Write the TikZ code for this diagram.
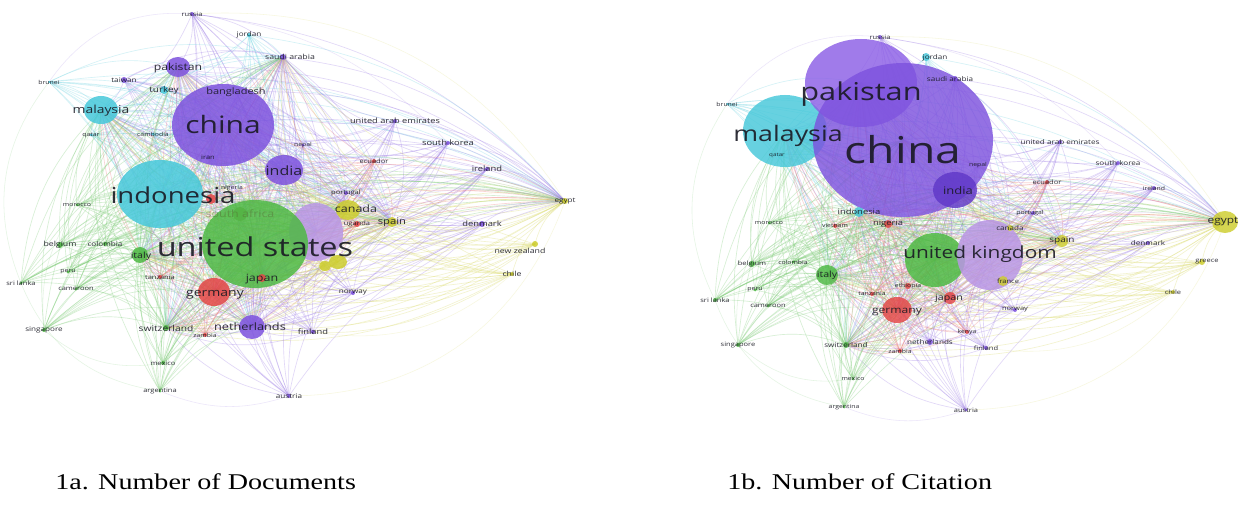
\documentclass[tikz,border=0pt]{standalone}
\usepackage{fontspec}
\setmainfont{Liberation Serif}
\newfontfamily\lab{Open Sans}
\definecolor{cpur}{RGB}{125,82,222}
\definecolor{cpurL}{RGB}{140,95,230}
\definecolor{cpurD}{RGB}{95,55,200}
\definecolor{clpur}{RGB}{185,150,228}
\definecolor{ccya}{RGB}{70,200,218}
\definecolor{cgrn}{RGB}{78,185,68}
\definecolor{cgrnD}{RGB}{120,150,70}
\definecolor{cred}{RGB}{228,70,70}
\definecolor{cyel}{RGB}{205,205,45}
\definecolor{txt}{RGB}{25,25,35}
\tikzset{
  lnk/.style={line width=0.65pt, opacity=0.3},
  lnkfaint/.style={line width=0.55pt, opacity=0.15},
  lbl/.style={inner sep=0pt, xscale=1.25, transform shape, text=txt, text opacity=0.9},
  captxt/.style={inner sep=0pt, xscale=1.25, transform shape, font=\fontsize{22.5}{24}\selectfont, anchor=base west}
}
\def\extraA{uk/316/232/27/29/clpur,yelA/338/262/9/7/cyel,yelB/325/266/6/5/cyel,southafrica/240/214/7/7/cgrnD}
\def\nodesA{russia/192/14/2/2/cpur/russia/6/192/14,
jordan/249/35/2/2/ccya/jordan/6.5/249/35,
saudiarabia/283/57/3/3/cpur/saudi arabia/7/290/57,
pakistan/178/67/12/10/cpur/pakistan/9.8/178/68,
taiwan/124/80/3/3/cpur/taiwan/6.5/124/80,
brunei/49/82/1/1/ccya/brunei/5.5/49/82,
turkey/164/90/4/4/ccya/turkey/8/164/90,
bangladesh/236/92/2/2/cpur/bangladesh/8.8/236/92,
malaysia/101/110/17/14/ccya/malaysia/11.1/101/111,
qatar/91/135/1.5/1.5/ccya/qatar/5.5/91/135,
cambodia/153/134/1.5/1.5/ccya/cambodia/5.5/153/134,
china/223/125/51/41/cpur/china/24/223/125,
iran/208/157/2/2/cpur/iran/6/208/157,
nepal/303/145/1.5/1.5/cpur/nepal/5.5/303/145,
uae/395/121/2/2/cpur/united arab emirates/7.4/395/121,
southkorea/448/143/2/2/cpur/south korea/7.5/448/143,
ireland/487/169/2/2/cpur/ireland/7.5/487/169,
ecuador/374/161/2/2/cred/ecuador/6/374/161,
india/284/170/19/15/cpur/india/12.8/284/171,
indonesia/160/194/43/34/ccya/indonesia/22/173/195,
nigeria/211/199/5/5/cred/nigeria/5.5/232/188,
unitedstates/255/244/53/44/cgrn/united states/26/255/247,
canada/348/210/12/10/cyel/canada/10/356/209,
portugal/346/193/2/2/cpur/portugal/6/346/193,
uganda/357/224/3/3/cred/uganda/6/357/224,
spain/392/222/5/5/cyel/spain/9/392/222,
denmark/482/224/3/3/cpur/denmark/7.5/482/224,
egypt/565/201/3/3/cyel/egypt/6.5/565/201,
newzealand/535/244/3/3/cyel/new zealand/7/520/251,
chile/512/274/2/2/cyel/chile/7/512/274,
norway/353/293/2/2/cpur/norway/6.5/353/293,
finland/313/332/2/2/cpur/finland/7.5/313/332,
austria/289/396/2/2/cpur/austria/6.5/289/396,
japan/262/278/4/4/cred/japan/10/262/279,
germany/214/292/16/14/cred/germany/11.2/215/295,
tanzania/160/277/2/2/cred/tanzania/6/160/277,
italy/140/255/8/8/cgrn/italy/8.5/141/256,
belgium/60/245/3/3/cgrn/belgium/7/60/245,
colombia/105/244/2/2/cgrn/colombia/6.5/105/244,
peru/68/272/1.5/1.5/cgrn/peru/5.5/68/272,
cameroon/76/289/1.5/1.5/cgrn/cameroon/6/76/289,
srilanka/21/283/1.5/1.5/cgrn/sri lanka/6/21/283,
morocco/77/205/1.5/1.5/cgrn/morocco/5.5/77/205,
singapore/44/330/2/2/cgrn/singapore/6.5/44/330,
switzerland/166/328/3/3/cgrn/switzerland/8.2/166/328,
zambia/205/335/2/2/cred/zambia/5.5/205/335,
netherlands/252/327/13/12/cpur/netherlands/10.2/250/327,
mexico/163/363/2/2/cgrn/mexico/6/163/363,
argentina/160/391/1.5/1.5/cgrn/argentina/6/160/391}
\def\hubsA{china,unitedstates,indonesia,india,germany,uk,malaysia,pakistan,netherlands,italy,canada,switzerland,spain,saudiarabia,egypt,japan}
\def\extraB{us/935/260/30/27/cgrn,uk/990/255/33/35/clpur}
\def\nodesB{russia/880/37/2/2/cpur/russia/6/880/37,
jordan/926/57/4/4/ccya/jordan/6.5/935/58,
saudiarabia/955/79/3/3/cpur/saudi arabia/6.5/950/79,
brunei/727/104/1/1/ccya/brunei/5.5/727/104,
malaysia/785/131/42/36/ccya/malaysia/21.4/788/136,
pakistan/861/83/56/44/cpurL/pakistan/24.6/861/94,
china/903/140/90/77/cpur/china/37/903/150,
qatar/777/155/1/1/ccya/qatar/5/777/155,
nepal/978/165/1.5/1.5/cpur/nepal/5.5/978/165,
india/955/190/22/18/cpurD/india/10.4/958/191,
uae/1060/142/2/2/cpur/united arab emirates/6.5/1060/142,
southkorea/1118/163/2/2/cpur/south korea/6.5/1118/163,
ireland/1154/188/2/2/cpur/ireland/5.5/1154/188,
ecuador/1047/182/2/2/cred/ecuador/6/1047/182,
portugal/1033/213/2/2/cpur/portugal/5.5/1030/213,
canada/1010/228/3/3/cyel/canada/6.5/1010/228,
spain/1062/241/6/6/cyel/spain/8/1062/241,
denmark/1148/243/2/2/cpur/denmark/6.5/1148/243,
egypt/1225/222/13/11/cyel/egypt/9.5/1223/222,
greece/1202/262/3/3/cyel/greece/6/1207/262,
chile/1173/292/2/2/cyel/chile/6/1173/292,
france/1003/281/5/5/cyel/france/6/1008/281,
norway/1015/310/2/2/cpur/norway/6/1015/310,
kenya/967/332/2/2/cred/kenya/5.5/967/332,
finland/986/348/2/2/cpur/finland/6/986/348,
netherlands/930/342/3/3/cpur/netherlands/6.5/930/342,
zambia/900/351/2/2/cred/zambia/5.5/900/351,
austria/966/410/1.5/1.5/cpur/austria/6/966/410,
japan/950/298/6/6/cred/japan/8.5/949/298,
ethiopia/908/286/3/3/cred/ethiopia/5.5/908/286,
germany/897/310/15/13/cred/germany/9.7/897/312,
tanzania/872/294/2/2/cred/tanzania/5.5/872/294,
nigeria/888/224/4/4/cred/nigeria/7.5/888/224,
indonesia/859/212/5/5/ccya/indonesia/7.5/859/212,
vietnam/835/226/2/2/cred/vietnam/5.5/835/226,
morocco/769/223/1.5/1.5/cgrn/morocco/5.5/769/223,
italy/827/275/11/10/cgrn/italy/8.5/827/275,
belgium/752/264/3/3/cgrn/belgium/6/752/264,
colombia/793/262/1.5/1.5/cgrn/colombia/5.5/793/262,
peru/755/290/1.5/1.5/cgrn/peru/5.5/755/290,
cameroon/768/306/1.5/1.5/cgrn/cameroon/6/768/306,
srilanka/715/300/2/2/cgrn/sri lanka/6/715/300,
singapore/738/345/2/2/cgrn/singapore/6/738/345,
switzerland/846/345/3/3/cgrn/switzerland/6.5/846/345,
mexico/853/379/1.5/1.5/cgrn/mexico/5.5/853/379,
argentina/844/407/1.5/1.5/cgrn/argentina/5.5/844/407}
\def\hubsB{china,pakistan,malaysia,us,uk,india,germany,italy,japan,spain,egypt,switzerland,indonesia,nigeria,canada}
\begin{document}
\begin{tikzpicture}[x=1pt,y=-1pt]
\fill[white] (0,0) rectangle (1239,508);
\useasboundingbox (0,0) rectangle (1239,508);
% coordinates
\foreach \nm/\x/\y/\rx/\ry/\col in \extraA {\coordinate (A-\nm) at (\x,\y);}
\foreach \nm/\x/\y/\rx/\ry/\col/\tx/\fs/\lx/\ly in \nodesA {\coordinate (A-\nm) at (\x,\y);}
\foreach \nm/\x/\y/\rx/\ry/\col in \extraB {\coordinate (B-\nm) at (\x,\y);}
\foreach \nm/\x/\y/\rx/\ry/\col/\tx/\fs/\lx/\ly in \nodesB {\coordinate (B-\nm) at (\x,\y);}
% links panel A
\foreach \nm/\x/\y/\rx/\ry/\col/\tx/\fs/\lx/\ly in \nodesA {
  \foreach \h in \hubsA {
    \edef\tmpa{\nm}\edef\tmpb{\h}%
    \ifx\tmpa\tmpb\else\draw[lnk, draw=\col!75] (A-\nm) to[bend left=20] (A-\h);\fi
  }
}
\foreach \nm/\x/\y/\rx/\ry/\col in \extraA {
  \foreach \h in \hubsA {
    \edef\tmpa{\nm}\edef\tmpb{\h}%
    \ifx\tmpa\tmpb\else\draw[lnk, draw=\col!75] (A-\nm) to[bend left=20] (A-\h);\fi
  }
}
% links panel B
\foreach \nm/\x/\y/\rx/\ry/\col/\tx/\fs/\lx/\ly in \nodesB {
  \foreach \h in \hubsB {
    \edef\tmpa{\nm}\edef\tmpb{\h}%
    \ifx\tmpa\tmpb\else\draw[lnk, draw=\col!75] (B-\nm) to[bend left=20] (B-\h);\fi
  }
}
\foreach \nm/\x/\y/\rx/\ry/\col in \extraB {
  \foreach \h in \hubsB {
    \edef\tmpa{\nm}\edef\tmpb{\h}%
    \ifx\tmpa\tmpb\else\draw[lnk, draw=\col!75] (B-\nm) to[bend left=20] (B-\h);\fi
  }
}
% faint outer arcs
\foreach \p in {A,B}{
  \draw[lnkfaint, draw=cyel] (\p-russia) to[bend left=30] (\p-egypt);
  \draw[lnkfaint, draw=cpur] (\p-russia) to[bend right=30] (\p-brunei);
  \draw[lnkfaint, draw=cgrn] (\p-brunei) to[bend right=30] (\p-srilanka);
  \draw[lnkfaint, draw=cgrn] (\p-srilanka) to[bend right=30] (\p-argentina);
  \draw[lnkfaint, draw=cpur] (\p-argentina) to[bend right=20] (\p-austria);
  \draw[lnkfaint, draw=cyel] (\p-austria) to[bend right=35] (\p-egypt);
  \draw[lnkfaint, draw=cgrn] (\p-singapore) to[bend right=25] (\p-mexico);
  \draw[lnkfaint, draw=cyel] (\p-chile) to[bend left=25] (\p-finland);
  \draw[lnkfaint, draw=cpur] (\p-russia) to[bend left=20] (\p-southkorea);
  \draw[lnkfaint, draw=cgrn] (\p-morocco) to[bend right=20] (\p-singapore);
}
% circles
\foreach \nm/\x/\y/\rx/\ry/\col in \extraA {\fill[\col, fill opacity=0.85] (A-\nm) ellipse [x radius=\rx pt, y radius=\ry pt];}
\foreach \nm/\x/\y/\rx/\ry/\col/\tx/\fs/\lx/\ly in \nodesA {\fill[\col, fill opacity=0.85] (A-\nm) ellipse [x radius=\rx pt, y radius=\ry pt];}
\foreach \nm/\x/\y/\rx/\ry/\col in \extraB {\fill[\col, fill opacity=0.85] (B-\nm) ellipse [x radius=\rx pt, y radius=\ry pt];}
\foreach \nm/\x/\y/\rx/\ry/\col/\tx/\fs/\lx/\ly in \nodesB {\fill[\col, fill opacity=0.82] (B-\nm) ellipse [x radius=\rx pt, y radius=\ry pt];}
% labels
\node[lbl, text=cgrnD!70!black, text opacity=0.45, font=\lab\fontsize{10}{10}\selectfont] (LA-southafrica) at (240,214) {south africa};
\foreach \nm/\x/\y/\rx/\ry/\col/\tx/\fs/\lx/\ly in \nodesA {\node[lbl, font=\lab\fontsize{\fs}{\fs}\selectfont] (LA-\nm) at (\lx,\ly) {\tx};}
\foreach \nm/\x/\y/\rx/\ry/\col/\tx/\fs/\lx/\ly in \nodesB {\node[lbl, font=\lab\fontsize{\fs}{\fs}\selectfont] (LB-\nm) at (\lx,\ly) {\tx};}
\node[lbl, font=\lab\fontsize{16.7}{16.7}\selectfont] (LB-uk) at (980,254) {united kingdom};
% captions
\node[captxt] (capA) at (55,489) {1a. Number of Documents};
\node[captxt] (capB) at (727,489) {1b. Number of Citation};
\end{tikzpicture}
\end{document}
